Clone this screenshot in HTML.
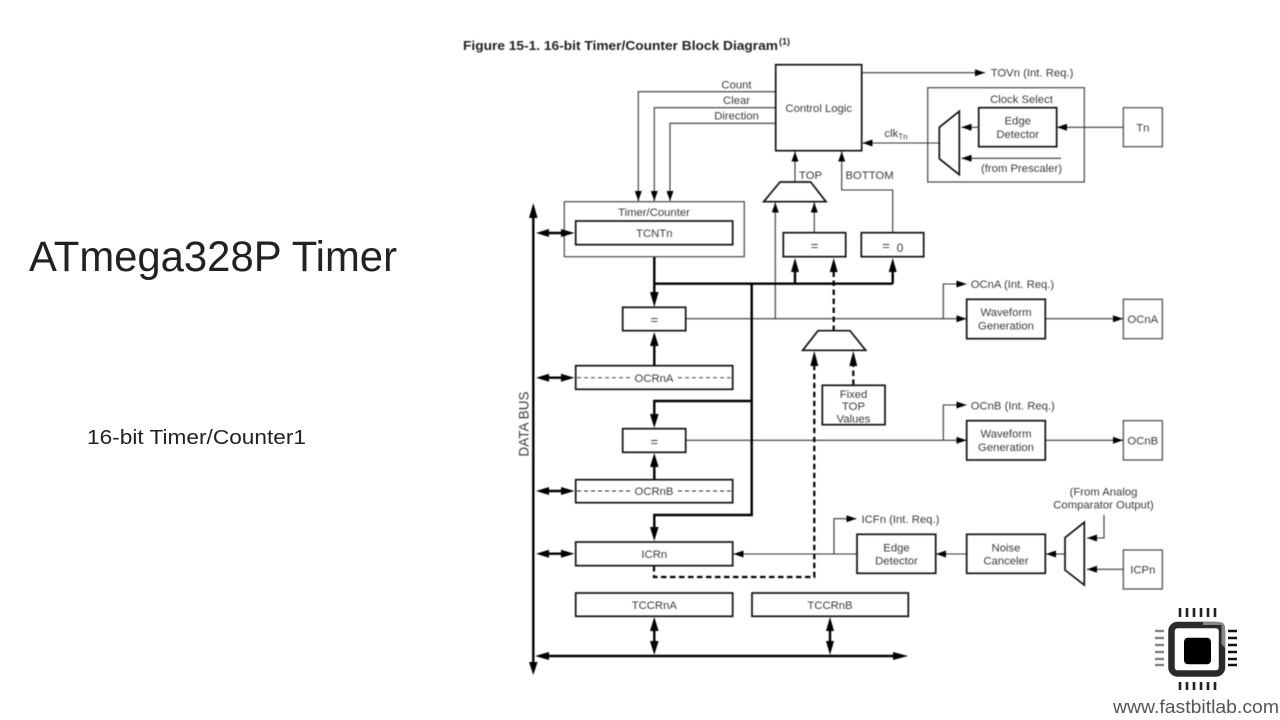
<!DOCTYPE html>
<html lang="en"><head><meta charset="utf-8"><title>ATmega328P Timer</title>
<style>
html,body{margin:0;padding:0;background:#fff;width:1280px;height:720px;overflow:hidden}
svg{display:block}
.d{filter:blur(.4px)}
.d text{font-family:"Liberation Sans",sans-serif;font-size:11.3px;fill:#3a3a3a;text-anchor:middle}
.s{text-anchor:start!important}
.b{fill:#fff;stroke:#111;stroke-width:1.7}
.g{fill:#fff;stroke:#444;stroke-width:1.2}
.t{fill:none;stroke:#333;stroke-width:1.1}
.k{fill:none;stroke:#000;stroke-width:2.4}
.h{fill:none;stroke:#000;stroke-width:2.2;stroke-dasharray:5.5 3.5}
.q{fill:none;stroke:#222;stroke-width:.9;stroke-dasharray:4 3}
.a{fill:#000;stroke:none}
</style></head><body>
<svg width="1280" height="720" viewBox="0 0 1280 720" xmlns="http://www.w3.org/2000/svg">
<defs>
<marker id="m" markerUnits="userSpaceOnUse" markerWidth="11" markerHeight="8" refX="10" refY="3.500" orient="auto"><path d="M0 0L10 3.500L0 7z" fill="#000"/></marker>
</defs>
<text x="29" y="271" font-family="Liberation Sans,sans-serif" font-size="43" fill="#222" textLength="368" lengthAdjust="spacingAndGlyphs">ATmega328P Timer</text>
<text x="87" y="444" font-family="Liberation Sans,sans-serif" font-size="20.500" fill="#222" textLength="219" lengthAdjust="spacingAndGlyphs">16-bit Timer/Counter1</text>

<g class="d">
<text class="s" x="463" y="50" style="font-size:13px;font-weight:bold;fill:#222" textLength="315" lengthAdjust="spacingAndGlyphs">Figure 15-1. 16-bit Timer/Counter Block Diagram</text>
<text class="s" x="779" y="44.500" style="font-size:9px;font-weight:bold;fill:#222">(1)</text>

<!-- thin connectors -->
<path class="t" d="M776 91.7H638.3V201" marker-end="url(#m)"/>
<path class="t" d="M776 107.7H654.3V201" marker-end="url(#m)"/>
<path class="t" d="M776 123.3H670V201" marker-end="url(#m)"/>
<path class="t" d="M862 72.7H985" marker-end="url(#m)"/>
<path class="t" d="M939 143H862.5" marker-end="url(#m)"/>
<path class="t" d="M795 182V151.5" marker-end="url(#m)"/>
<path class="t" d="M892.7 233V190H841.7V151.5" marker-end="url(#m)"/>
<path class="t" d="M775.3 318.7V202.5" marker-end="url(#m)"/>
<path class="t" d="M814.3 233V202.5" marker-end="url(#m)"/>
<path class="t" d="M686 318.7H966.5" marker-end="url(#m)"/>
<path class="t" d="M943.3 318.7V284H966.5" marker-end="url(#m)"/>
<path class="t" d="M1045 318.7H1123" marker-end="url(#m)"/>
<path class="t" d="M686 440.3H966.5" marker-end="url(#m)"/>
<path class="t" d="M943.3 440.3V405H966.5" marker-end="url(#m)"/>
<path class="t" d="M1045 440.3H1123" marker-end="url(#m)"/>
<path class="t" d="M857 554H733.5" marker-end="url(#m)"/>
<path class="t" d="M834 554V518.7H856.5" marker-end="url(#m)"/>
<path class="t" d="M966.7 554H936" marker-end="url(#m)"/>
<path class="t" d="M1065 554H1046" marker-end="url(#m)"/>
<path class="t" d="M1104 515V538H1087" marker-end="url(#m)"/>
<path class="t" d="M1123.3 569.3H1087" marker-end="url(#m)"/>

<!-- thick buses -->
<path class="k" d="M533.3 215V664"/>
<polygon class="a" points="533.3,203 529,218 537.6,218"/>
<polygon class="a" points="533.3,675 529,662 537.6,662"/>
<path class="k" d="M545 656H896"/>
<polygon class="a" points="535,656 549,652 549,660"/>
<polygon class="a" points="908,656 893,652 893,660"/>
<path class="k" d="M654.3 245V295"/>
<polygon class="a" points="654.3,307 650,292 658.6,292"/>
<path class="k" d="M654.3 283.7H892.7M795 283.7V270M892.7 283.7V270"/>
<polygon class="a" points="795,258 791,272 799,272"/>
<polygon class="a" points="892.7,258 888.7,272 896.7,272"/>
<path class="k" d="M751.7 283.7V515H654.3V530"/>
<path class="k" d="M751.7 401H654.3V416"/>
<polygon class="a" points="654.3,428 650,414 658.6,414"/>
<polygon class="a" points="654.3,541 650,527 658.6,527"/>
<path class="k" d="M654.3 366V345"/>
<polygon class="a" points="654.3,332 650,346 658.6,346"/>
<path class="k" d="M654.3 480V465"/>
<polygon class="a" points="654.3,453 650,467 658.6,467"/>

<path class="k" d="M654.3 628V645"/><polygon class="a" points="654.3,617 650,631 658.6,631"/><polygon class="a" points="654.3,655 650,641 658.6,641"/>
<path class="k" d="M830 628V645"/><polygon class="a" points="830,617 826,631 834,631"/><polygon class="a" points="830,655 826,641 834,641"/>

<!-- dashed -->
<path class="h" d="M654 566V577H814.3V365"/>
<polygon class="a" points="814.3,351 810.3,366 818.3,366"/>
<path class="h" d="M833.7 331V271"/>
<polygon class="a" points="833.7,258 829.7,272 837.7,272"/>
<path class="h" d="M853.3 385V364"/>
<polygon class="a" points="853.3,351 849.3,366 857.3,366"/>

<!-- boxes -->
<rect class="b" x="775.7" y="64.7" width="86" height="86"/>
<rect class="g" x="564.3" y="201.7" width="180" height="55"/>
<rect class="b" x="575.7" y="221" width="157" height="23.7"/>
<rect class="b" x="783.3" y="232.7" width="62.4" height="24"/>
<rect class="b" x="861.3" y="232.7" width="62.4" height="24"/>
<rect class="b" x="622.7" y="307.3" width="63" height="23.4"/>
<rect class="b" x="575.7" y="365.7" width="157" height="23.6"/>
<rect class="b" x="622.7" y="428.7" width="63" height="23.6"/>
<rect class="b" x="575.7" y="479.7" width="157" height="23"/>
<rect class="b" x="575.7" y="542" width="157" height="23.7"/>
<rect class="b" x="575.7" y="593" width="157" height="23.3"/>
<rect class="b" x="752" y="593" width="156.3" height="23.3"/>
<rect class="b" x="822.3" y="385.3" width="62.7" height="39.4"/>
<rect class="b" x="857" y="534.3" width="78.7" height="39"/>
<rect class="b" x="966.7" y="534.3" width="78.6" height="39"/>
<rect class="b" x="966.7" y="299.3" width="78.6" height="39.4"/>
<rect class="b" x="966.7" y="420.7" width="78.6" height="39.3"/>
<rect class="g" x="1123.3" y="299.3" width="39" height="39.4"/>
<rect class="g" x="1123.3" y="420.7" width="39" height="39.3"/>
<rect class="g" x="1123.3" y="550" width="39" height="39"/>
<rect class="g" x="1123.3" y="107.7" width="39" height="39"/>
<rect x="927.7" y="87.7" width="156.6" height="94.3" fill="none" stroke="#444" stroke-width="1.2"/>
<rect class="b" x="978.7" y="107.7" width="78" height="39"/>

<path class="t" d="M1123.3 127.3H1057" marker-end="url(#m)"/>
<path class="t" d="M979 127.3H961.5" marker-end="url(#m)"/>
<path class="t" d="M1061 158.3H961.5" marker-end="url(#m)"/>

<!-- left double arrows -->
<path class="k" d="M545 233H565"/><polygon class="a" points="536,233 549,229 549,237"/><polygon class="a" points="574.5,233 561,229 561,237"/>
<path class="k" d="M545 377.7H565"/><polygon class="a" points="536,377.7 549,373.7 549,381.7"/><polygon class="a" points="574.5,377.7 561,373.7 561,381.7"/>
<path class="k" d="M545 491H565"/><polygon class="a" points="536,491 549,487 549,495"/><polygon class="a" points="574.5,491 561,487 561,495"/>
<path class="k" d="M545 553.7H565"/><polygon class="a" points="536,553.7 549,549.7 549,557.7"/><polygon class="a" points="574.5,553.7 561,549.7 561,557.7"/>

<!-- muxes -->
<polygon class="b" points="780,182 810.7,182 826,201.7 763.7,201.7"/>
<polygon class="b" points="818,330.7 850,330.7 865.7,350.3 802.7,350.3"/>
<polygon class="b" points="939.3,127.3 959.3,111.3 959.3,174.7 939.3,158.7"/>
<polygon class="b" points="1065,537.7 1084.3,522.3 1084.3,585 1065,570"/>

<path class="q" d="M577 377.7H630M678 377.7H732"/>
<path class="q" d="M577 491H630M678 491H732"/>

<!-- labels -->
<text x="736.5" y="88.5">Count</text>
<text x="736.5" y="104">Clear</text>
<text x="736.5" y="119.5">Direction</text>
<text x="818.7" y="112">Control Logic</text>
<text x="896" y="137">clk<tspan font-size="8" dy="2.5">Tn</tspan></text>
<text class="s" x="799" y="179">TOP</text>
<text class="s" x="845.5" y="179">BOTTOM</text>
<text x="654" y="216">Timer/Counter</text>
<text x="654.3" y="237">TCNTn</text>
<text x="814.5" y="250" style="font-size:13px">=</text>
<text x="886" y="250" style="font-size:13px">=</text>
<text x="900" y="252" style="font-size:12px">0</text>
<text x="654.3" y="324" style="font-size:13px">=</text>
<text x="654.3" y="446" style="font-size:13px">=</text>
<text x="654" y="382">OCRnA</text>
<text x="654" y="495">OCRnB</text>
<text x="654.3" y="558">ICRn</text>
<text x="654.3" y="609">TCCRnA</text>
<text x="830" y="609">TCCRnB</text>
<text x="853.5" y="398">Fixed</text>
<text x="853.5" y="410">TOP</text>
<text x="853.5" y="422.5">Values</text>
<text x="1006" y="316">Waveform</text>
<text x="1006" y="329.5">Generation</text>
<text x="1006" y="437.5">Waveform</text>
<text x="1006" y="451">Generation</text>
<text x="1142.8" y="323">OCnA</text>
<text x="1142.8" y="444.5">OCnB</text>
<text x="1142.8" y="573.5">ICPn</text>
<text x="1142.8" y="131.5">Tn</text>
<text class="s" x="970.7" y="288">OCnA (Int. Req.)</text>
<text class="s" x="970.7" y="409.5">OCnB (Int. Req.)</text>
<text class="s" x="861.5" y="523">ICFn (Int. Req.)</text>
<text class="s" x="990.7" y="76.5">TOVn (Int. Req.)</text>
<text x="1021.5" y="103">Clock Select</text>
<text x="1017.7" y="124.5">Edge</text>
<text x="1017.7" y="138">Detector</text>
<text x="1021.5" y="172">(from Prescaler)</text>
<text x="896.5" y="551.5">Edge</text>
<text x="896.5" y="564.5">Detector</text>
<text x="1006" y="551.5">Noise</text>
<text x="1006" y="564.5">Canceler</text>
<text x="1103.5" y="495.5">(From Analog</text>
<text x="1103.5" y="508.5">Comparator Output)</text>
<text x="0" y="0" transform="translate(528.5,424) rotate(-90)" style="font-size:13.6px">DATA BUS</text>
</g>

<!-- logo -->
<g>
<path d="M1180 608v9M1187 608v9M1194 608v9M1201 608v9M1208 608v9M1215 608v9M1180 682v8M1187 682v8M1194 682v8M1201 682v8M1208 682v8M1215 682v8" stroke="#222" stroke-width="2.6"/>
<path d="M1155 631h9M1155 638h9M1155 645h9M1155 652h9M1155 659h9M1155 665h9" stroke="#888" stroke-width="2.4"/>
<path d="M1228 631h9M1228 638h9M1228 645h9M1228 652h9M1228 659h9M1228 665h9" stroke="#111" stroke-width="2.4"/>
<rect x="1171.5" y="625" width="50.5" height="48.5" rx="6" fill="#fff" stroke="#2a2a2a" stroke-width="6.5"/>
<path d="M1203 622h16q6 0 6 6v20l-3.500-4V625h-18.500z" fill="#888"/>
<rect x="1184" y="637.700" width="27" height="26.600" rx="4" fill="#000"/>
<text x="1113" y="713" font-family="Liberation Sans,sans-serif" font-size="18" fill="#555" textLength="166" lengthAdjust="spacingAndGlyphs">www.fastbitlab.com</text>
</g>
</svg>
</body></html>
